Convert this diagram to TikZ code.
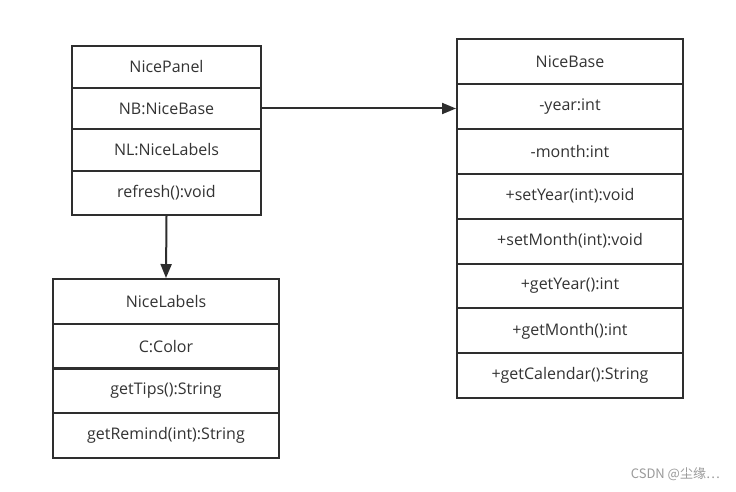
\documentclass[tikz,border=0pt]{standalone}
\usepackage{fontspec}
\setmainfont{Open Sans}
\newfontfamily\cjkfont{Noto Sans CJK SC}
\usetikzlibrary{arrows.meta}
\definecolor{linec}{HTML}{2E2E2E}
\definecolor{textc}{HTML}{333333}
\definecolor{wmc}{HTML}{9A9A9A}
\tikzset{
  cell/.style={draw=linec, line width=2pt, inner sep=0pt, text=textc, font=\fontsize{16}{18}\selectfont},
  panelcell/.style={cell, minimum width=189pt},
  basecell/.style={cell, minimum width=226pt, minimum height=44.9pt},
  labcell/.style={cell, minimum width=226pt, minimum height=44.75pt},
  conn/.style={draw=linec, line width=2pt, -{Triangle[length=14pt,width=11pt]}}
}
\begin{document}
\begin{tikzpicture}[x=1pt,y=-1pt]
\useasboundingbox (0,0) rectangle (736,492);
\fill[white] (0,0) rectangle (736,492);
% NicePanel
\node[panelcell, minimum height=42pt] (p1) at (166.5,67) {NicePanel};
\node[panelcell, minimum height=41pt] (p2) at (166.5,108.5) {NB:NiceBase};
\node[panelcell, minimum height=42pt] (p3) at (166.5,150) {NL:NiceLabels};
\node[panelcell, minimum height=44pt] (p4) at (166.5,193) {refresh():void};
% NiceBase
\node[basecell] (b1) at (570,61.45) {NiceBase};
\node[basecell] (b2) at (570,106.35) {-year:int};
\node[basecell] (b3) at (570,151.25) {-month:int};
\node[basecell] (b4) at (570,196.15) {+setYear(int):void};
\node[basecell] (b5) at (570,241.05) {+setMonth(int):void};
\node[basecell] (b6) at (570,285.95) {+getYear():int};
\node[basecell] (b7) at (570,330.85) {+getMonth():int};
\node[basecell] (b8) at (570,375.75) {+getCalendar():String};
% NiceLabels
\node[labcell] (l1) at (166,301.4) {NiceLabels};
\node[labcell] (l2) at (166,346.1) {C:Color};
\node[labcell] (l3) at (166,390.9) {getTips():String};
\node[labcell] (l4) at (166,435.6) {getRemind(int):String};
% connectors
\draw[conn] (p2.east) -- (p2.east -| b2.west);
\draw[conn] (p4.south) -- (l1.north);
% watermark
\node[text=wmc, font=\cjkfont\fontsize{13}{15}\selectfont, anchor=east, inner sep=0pt] (wm) at (720,474) {CSDN @尘缘…};
\end{tikzpicture}
\end{document}
